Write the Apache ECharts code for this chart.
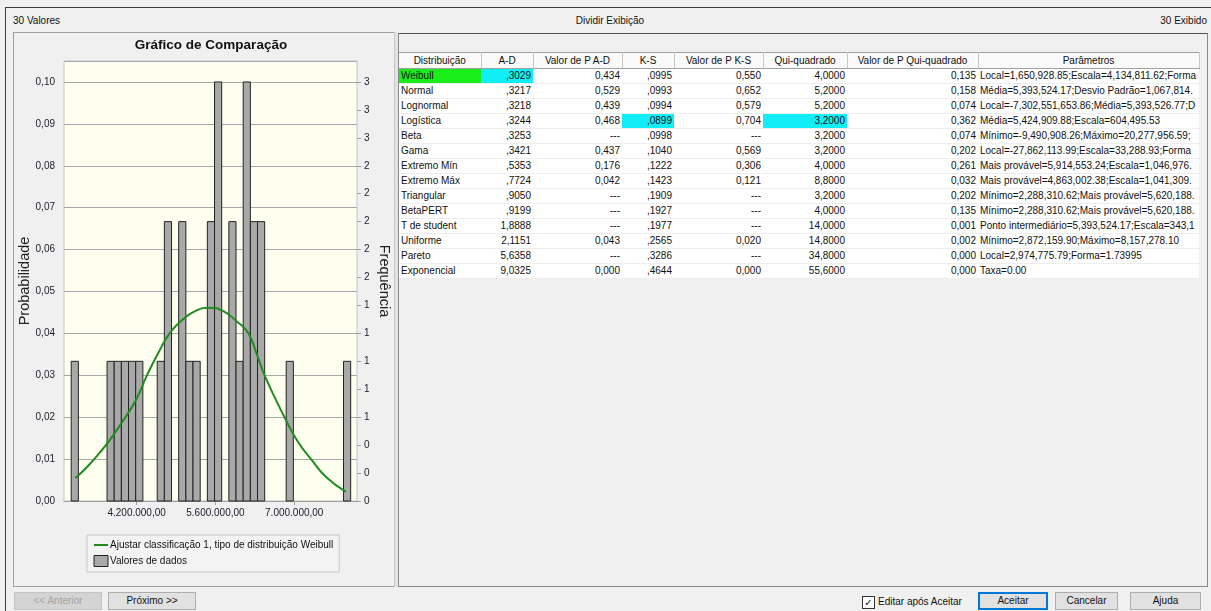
<!DOCTYPE html>
<html lang="pt-BR">
<head>
<meta charset="utf-8">
<title>Gráfico de Comparação</title>
<script src="https://cdn.jsdelivr.net/npm/echarts@6.0.0/dist/echarts.min.js"></script>
<style>
  html, body { margin: 0; padding: 0; }
  body {
    width: 1211px; height: 611px; position: relative; overflow: hidden;
    background: #f0f0f0; font-family: "Liberation Sans", Arial, sans-serif; font-size: 10px; color: #111;
  }
  .abs { position: absolute; }
  .frame-top { left: 5px; top: 7px; width: 1206px; height: 1px; background: #3c3c3c; }
  .frame-left { left: 5px; top: 7px; width: 1px; height: 604px; background: #3c3c3c; }
  .lbl { top: 14px; line-height: 14px; white-space: nowrap; }
  #leftPanel { left: 13px; top: 32px; width: 380px; height: 553px; border: 1px solid #a0a0a0; background: #f0f0f0; }
  #main { left: 14px; top: 33px; width: 380px; height: 553px; }
  .splitter { left: 394px; top: 32px; width: 3px; height: 555px; background: #e3e3e3; border-left: 1px solid #c8c8c8; }
  #rightPanel { left: 398px; top: 33px; width: 808px; height: 552px; border: 1px solid #8a8a8a; border-top-color: #505050; background: #f0f0f0; }
  #grid { left: 399px; top: 52px; border-collapse: collapse; table-layout: fixed; width: 800px; }
  #grid th {
    height: 15px; padding: 0 3px; font-weight: normal; background: #f9f9f9; color: #111;
    border-right: 1px solid #c8c8c8; border-bottom: 1px solid #a0a0a0; border-top: 1px solid #a0a0a0;
    text-align: center; white-space: nowrap; overflow: hidden;
  }
  #grid td {
    height: 14px; padding: 0 2px; background: #fff; border-bottom: 1px solid #eeeeee;
    white-space: nowrap; overflow: hidden; text-align: right; line-height: 14px;
  }
  #grid td.name { text-align: left; }
  #grid td.par { text-align: left; padding-left: 2px; }
  .btn {
    height: 16px; line-height: 16px; text-align: center; background: #e1e1e1; border: 1px solid #adadad; color: #111;
  }
  .btn.off { background: #d4d4d4; border-color: #c4c4c4; color: #a3a3a3; }
  .btn.def { border: 1px solid #0078d7; box-shadow: inset 0 0 0 1px #0078d7; }
  .chk { left: 862px; top: 596px; width: 11px; height: 11px; border: 1px solid #333; background: #fff; font-size: 10px; line-height: 11px; text-align: center; font-family: "DejaVu Sans", sans-serif; }
</style>
</head>
<body>
<div class="abs frame-top"></div>
<div class="abs frame-left"></div>
<div class="abs lbl" style="left:13px">30 Valores</div>
<div class="abs lbl" style="left:560px;width:100px;text-align:center">Dividir Exibição</div>
<div class="abs lbl" style="right:4px">30 Exibido</div>

<div class="abs" id="leftPanel"></div>
<div class="abs" id="main"></div>
<div class="abs splitter"></div>
<div class="abs" id="rightPanel"></div>
<table class="abs" id="grid"></table>

<div class="abs btn off" style="left:14px;top:592px;width:86px">&lt;&lt; Anterior</div>
<div class="abs btn" style="left:108px;top:592px;width:86px">Próximo &gt;&gt;</div>
<div class="abs chk">✓</div>
<div class="abs" style="left:878px;top:595px;line-height:14px">Editar após Aceitar</div>
<div class="abs btn def" style="left:978px;top:592px;width:68px">Aceitar</div>
<div class="abs btn" style="left:1055px;top:592px;width:61px">Cancelar</div>
<div class="abs btn" style="left:1130px;top:592px;width:69px">Ajuda</div>

<script>
// histograma: inicio de cada classe (somente classes com contagem) e frequencia
const binWidth = 127300
const binStart = [3038000, 3674500, 3801800, 3929100, 4056400, 4183700, 4565600, 4692900, 4947500, 5074800,
  5202100, 5456700, 5584000, 5838600, 5965900, 6093200, 6220500, 6347800, 6857000, 7875400]
const binCount = [1, 1, 1, 1, 1, 1, 1, 2, 2, 1,
  1, 2, 3, 2, 1, 3, 2, 2, 1, 1]

// curva ajustada (Weibull)
const curveX = [3110000, 3311000, 3548000, 3726000, 3992000, 4200000, 4377000, 4584000, 4792000, 5028000,
  5266000, 5490000, 5739000, 5976000, 6183000, 6330000, 6479000, 6835000, 7071000, 7309000, 7575000, 7918000]
const curveY = [0.0055, 0.0080, 0.0116, 0.0146, 0.0198, 0.0244, 0.0298, 0.0353, 0.0401, 0.0434,
  0.0455, 0.0461, 0.0453, 0.0429, 0.0401, 0.0352, 0.0298, 0.0198, 0.0140, 0.0098, 0.0056, 0.0022]

// marcas dos eixos
const xTicks = [4200000, 5600000, 7000000]
const freqTicks = [0, 0.2, 0.4, 0.6, 0.8, 1, 1.2, 1.4, 1.6, 1.8, 2, 2.2, 2.4, 2.6, 2.8, 3]

// tabela de ajuste
const distNames = ['Weibull', 'Normal', 'Lognormal', 'Logística', 'Beta', 'Gama', 'Extremo Mín', 'Extremo Máx',
  'Triangular', 'BetaPERT', 'T de student', 'Uniforme', 'Pareto', 'Exponencial']
const adValues = [',3029', ',3217', ',3218', ',3244', ',3253', ',3421', ',5353', ',7724', ',9050', ',9199', '1,8888', '2,1151', '5,6358', '9,0325']
const adP = ['0,434', '0,529', '0,439', '0,468', '---', '0,437', '0,176', '0,042', '---', '---', '---', '0,043', '---', '0,000']
const ksValues = [',0995', ',0993', ',0994', ',0899', ',0998', ',1040', ',1222', ',1423', ',1909', ',1927', ',1977', ',2565', ',3286', ',4644']
const ksP = ['0,550', '0,652', '0,579', '0,704', '---', '0,569', '0,306', '0,121', '---', '---', '---', '0,020', '---', '0,000']
const chiValues = ['4,0000', '5,2000', '5,2000', '3,2000', '3,2000', '3,2000', '4,0000', '8,8000', '3,2000', '4,0000', '14,0000', '14,8000', '34,8000', '55,6000']
const chiP = ['0,135', '0,158', '0,074', '0,362', '0,074', '0,202', '0,261', '0,032', '0,202', '0,135', '0,001', '0,002', '0,000', '0,000']
const params = [
  'Local=1,650,928.85;Escala=4,134,811.62;Forma',
  'Média=5,393,524.17;Desvio Padrão=1,067,814.',
  'Local=-7,302,551,653.86;Média=5,393,526.77;D',
  'Média=5,424,909.88;Escala=604,495.53',
  'Mínimo=-9,490,908.26;Máximo=20,277,956.59;',
  'Local=-27,862,113.99;Escala=33,288.93;Forma',
  'Mais provável=5,914,553.24;Escala=1,046,976.',
  'Mais provável=4,863,002.38;Escala=1,041,309.',
  'Mínimo=2,288,310.62;Mais provável=5,620,188.',
  'Mínimo=2,288,310.62;Mais provável=5,620,188.',
  'Ponto intermediário=5,393,524.17;Escala=343,1',
  'Mínimo=2,872,159.90;Máximo=8,157,278.10',
  'Local=2,974,775.79;Forma=1.73995',
  'Taxa=0.00'
]

// montar tabela
const headers = ['Distribuição', 'A-D', 'Valor de P A-D', 'K-S', 'Valor de P K-S', 'Qui-quadrado', 'Valor de P Qui-quadrado', 'Parâmetros']
const colW = [82, 52, 89, 52, 89, 84, 131, 221]
const green = '#1aee1a'
const cyan = '#12eef8'
let html = '<colgroup>' + colW.map((w) => `<col style="width:${w}px">`).join('') + '</colgroup>'
html += '<tr>' + headers.map((h) => `<th>${h}</th>`).join('') + '</tr>'
distNames.forEach((n, i) => {
  const bg = (on, c) => (on ? ` style="background:${c}"` : '')
  html += '<tr>' +
    `<td class="name"${bg(i === 0, green)}>${n}</td>` +
    `<td${bg(i === 0, cyan)}>${adValues[i]}</td>` +
    `<td>${adP[i]}</td>` +
    `<td${bg(i === 3, cyan)}>${ksValues[i]}</td>` +
    `<td>${ksP[i]}</td>` +
    `<td${bg(i === 3, cyan)}>${chiValues[i]}</td>` +
    `<td>${chiP[i]}</td>` +
    `<td class="par">${params[i]}</td>` +
    '</tr>'
})
document.getElementById('grid').innerHTML = html

// formato brasileiro 4.200.000,00
const fmtBR = (v) => {
  const [a, b] = v.toFixed(2).split('.')
  return a.replace(/\B(?=(\d{3})+(?!\d))/g, '.') + ',' + b
}

const lineName = 'Ajustar classificação 1, tipo de distribuição Weibull'
const barName = 'Valores de dados'
const font = '"Liberation Sans", Arial, sans-serif'

const myChart = echarts.init(document.getElementById('main'))
const option = {
  animation: false,
  textStyle: { fontFamily: font },
  title: {
    text: 'Gráfico de Comparação',
    left: 192,
    textAlign: 'center',
    top: 0,
    textStyle: { fontSize: 13.5, fontWeight: 'bold', color: '#111', fontFamily: font }
  },
  grid: {
    left: 50,
    top: 28,
    width: 293,
    height: 440,
    outerBoundsMode: 'none',
    containLabel: false,
    show: true,
    backgroundColor: '#fffff0',
    borderColor: '#c4c4c4',
    borderWidth: 1
  },
  legend: {
    orient: 'vertical',
    left: 73,
    top: 502,
    padding: [5, 6],
    itemGap: 5,
    itemWidth: 14,
    itemHeight: 11,
    backgroundColor: '#f3f3f3',
    borderColor: '#c8c8c8',
    borderWidth: 1,
    textStyle: { fontSize: 10, color: '#111', padding: [0, 0, 0, -3] },
    data: [
      { name: lineName, itemStyle: { opacity: 0 }, lineStyle: { color: '#1f8c1f', width: 2 } },
      { name: barName, icon: 'rect', itemStyle: { color: '#a9a9a9', borderColor: '#222', borderWidth: 1 } }
    ]
  },
  xAxis: {
    type: 'value',
    min: 2910000,
    max: 8115000,
    axisLine: { show: true, lineStyle: { color: '#a0a0a0' } },
    axisTick: { show: true, customValues: xTicks, length: 4, lineStyle: { color: '#a0a0a0' } },
    axisLabel: { customValues: xTicks, formatter: fmtBR, fontSize: 10, color: '#1c1c2c', margin: 7 },
    splitLine: { show: false }
  },
  yAxis: [
    {
      type: 'value',
      name: 'Probabilidade',
      nameLocation: 'middle',
      nameGap: 32,
      nameMoveOverlap: false,
      nameTextStyle: { fontSize: 14.5, color: '#222' },
      min: 0,
      max: 0.105,
      interval: 0.01,
      axisLine: { show: false },
      axisTick: { show: false },
      axisLabel: {
        showMaxLabel: false,
        fontSize: 10,
        color: '#1c1c2c',
        margin: 9,
        formatter: (v) => v.toFixed(2).replace('.', ',')
      },
      splitLine: { lineStyle: { color: '#a8a8a8' } }
    },
    {
      type: 'value',
      name: 'Frequência',
      nameLocation: 'middle',
      nameRotate: -90,
      nameGap: 19,
      nameMoveOverlap: false,
      nameTextStyle: { fontSize: 14.5, color: '#222' },
      min: 0,
      max: 3.15,
      axisLine: { show: false },
      axisTick: { show: true, customValues: freqTicks, length: 4, lineStyle: { color: '#a0a0a0' } },
      axisLabel: {
        customValues: freqTicks,
        fontSize: 10,
        color: '#1c1c2c',
        margin: 7,
        formatter: (v) => String(Math.round(v))
      },
      splitLine: { show: false }
    }
  ],
  series: [
    {
      name: barName,
      type: 'custom',
      yAxisIndex: 1,
      itemStyle: { color: '#a9a9a9', borderColor: '#222', borderWidth: 1 },
      encode: { x: [0, 1], y: 2 },
      data: binStart.map((s, i) => [s, s + binWidth, binCount[i]]),
      renderItem: (params, api) => {
        const p0 = api.coord([api.value(0), api.value(2)])
        const p1 = api.coord([api.value(1), 0])
        return {
          type: 'rect',
          shape: { x: p0[0], y: p0[1], width: p1[0] - p0[0], height: p1[1] - p0[1] },
          style: { fill: '#a9a9a9', stroke: '#222', lineWidth: 1 }
        }
      }
    },
    {
      name: lineName,
      type: 'line',
      yAxisIndex: 0,
      smooth: true,
      symbol: 'none',
      z: 5,
      lineStyle: { color: '#1f8c1f', width: 2 },
      itemStyle: { color: '#1f8c1f' },
      data: curveX.map((x, i) => [x, curveY[i]])
    }
  ]
}
myChart.setOption(option)
</script>
</body>
</html>
